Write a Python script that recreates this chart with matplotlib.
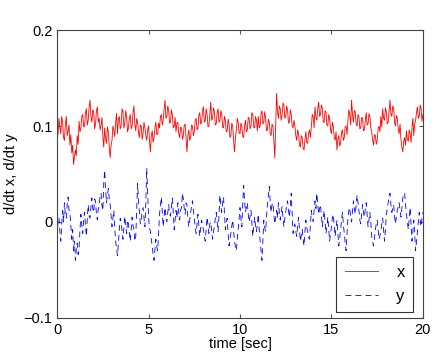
import numpy as np
import matplotlib
matplotlib.use("Agg")
import matplotlib.pyplot as plt

plt.rcParams['font.family'] = ['Liberation Sans', 'DejaVu Sans']

t = np.arange(401) * 0.05

dx = [0.098, 0.091, 0.108, 0.099, 0.092, 0.110, 0.104, 0.088, 0.085, 0.102, 0.110, 0.090, 0.095, 0.101, 0.080, 0.091, 0.072, 0.080, 0.060, 0.068,
      0.075, 0.069, 0.090, 0.081, 0.105, 0.094, 0.098, 0.110, 0.112, 0.099, 0.100, 0.114, 0.118, 0.101, 0.106, 0.120, 0.127, 0.110, 0.104, 0.117,
      0.115, 0.097, 0.102, 0.116, 0.120, 0.104, 0.108, 0.096, 0.100, 0.109, 0.090, 0.078, 0.098, 0.087, 0.082, 0.099, 0.094, 0.078, 0.067, 0.080,
      0.085, 0.100, 0.096, 0.089, 0.104, 0.113, 0.092, 0.107, 0.110, 0.097, 0.100, 0.118, 0.115, 0.098, 0.103, 0.116, 0.110, 0.094, 0.098, 0.108,
      0.112, 0.097, 0.100, 0.114, 0.121, 0.102, 0.095, 0.108, 0.104, 0.093, 0.088, 0.101, 0.100, 0.086, 0.092, 0.104, 0.098, 0.090, 0.085, 0.096,
      0.100, 0.085, 0.073, 0.090, 0.095, 0.083, 0.088, 0.099, 0.104, 0.091, 0.092, 0.103, 0.098, 0.110, 0.112, 0.101, 0.106, 0.118, 0.127, 0.108,
      0.110, 0.121, 0.116, 0.103, 0.104, 0.117, 0.112, 0.098, 0.100, 0.109, 0.094, 0.103, 0.104, 0.092, 0.088, 0.099, 0.098, 0.086, 0.090, 0.101,
      0.102, 0.088, 0.073, 0.090, 0.096, 0.085, 0.088, 0.101, 0.100, 0.090, 0.094, 0.106, 0.108, 0.096, 0.098, 0.111, 0.114, 0.102, 0.104, 0.116,
      0.120, 0.104, 0.106, 0.118, 0.112, 0.099, 0.100, 0.113, 0.125, 0.106, 0.108, 0.119, 0.115, 0.101, 0.102, 0.114, 0.118, 0.104, 0.105, 0.116,
      0.112, 0.099, 0.098, 0.110, 0.106, 0.094, 0.095, 0.107, 0.102, 0.088, 0.090, 0.103, 0.100, 0.085, 0.073, 0.088, 0.096, 0.108, 0.104, 0.093,
      0.092, 0.103, 0.100, 0.089, 0.088, 0.100, 0.106, 0.094, 0.096, 0.109, 0.108, 0.097, 0.100, 0.114, 0.112, 0.099, 0.098, 0.110, 0.106, 0.095,
      0.110, 0.098, 0.100, 0.113, 0.116, 0.102, 0.104, 0.115, 0.108, 0.095, 0.096, 0.107, 0.104, 0.092, 0.090, 0.102, 0.100, 0.085, 0.067, 0.100,
      0.134, 0.115, 0.108, 0.121, 0.118, 0.106, 0.112, 0.124, 0.122, 0.108, 0.110, 0.121, 0.116, 0.103, 0.104, 0.117, 0.112, 0.100, 0.098, 0.106,
      0.100, 0.090, 0.085, 0.096, 0.092, 0.080, 0.078, 0.090, 0.088, 0.077, 0.075, 0.086, 0.094, 0.083, 0.082, 0.093, 0.096, 0.088, 0.100, 0.112,
      0.110, 0.098, 0.120, 0.109, 0.106, 0.118, 0.125, 0.110, 0.112, 0.122, 0.118, 0.104, 0.104, 0.116, 0.114, 0.101, 0.100, 0.112, 0.108, 0.096,
      0.092, 0.104, 0.100, 0.088, 0.085, 0.094, 0.075, 0.086, 0.090, 0.079, 0.082, 0.093, 0.096, 0.085, 0.088, 0.099, 0.100, 0.091, 0.106, 0.117,
      0.112, 0.101, 0.127, 0.112, 0.104, 0.116, 0.115, 0.102, 0.100, 0.112, 0.110, 0.097, 0.098, 0.109, 0.108, 0.095, 0.096, 0.106, 0.114, 0.101,
      0.102, 0.113, 0.110, 0.098, 0.094, 0.086, 0.080, 0.091, 0.090, 0.081, 0.085, 0.097, 0.100, 0.094, 0.110, 0.099, 0.118, 0.108, 0.106, 0.119,
      0.115, 0.102, 0.104, 0.116, 0.127, 0.112, 0.110, 0.121, 0.118, 0.104, 0.100, 0.111, 0.108, 0.097, 0.092, 0.102, 0.086, 0.078, 0.073, 0.084,
      0.088, 0.080, 0.095, 0.086, 0.084, 0.096, 0.092, 0.083, 0.098, 0.108, 0.090, 0.102, 0.106, 0.114, 0.120, 0.108, 0.110, 0.122, 0.118, 0.105,
      0.112]

dy = [-0.015, 0.002, 0.005, -0.010, -0.020, -0.004, 0.012, 0.000, 0.020, 0.008, 0.004, 0.018, 0.026, 0.012, 0.010, -0.004, -0.018, -0.008, -0.030, -0.020,
      -0.040, -0.028, -0.022, -0.034, -0.028, -0.008, 0.008, -0.004, -0.012, 0.002, 0.010, -0.004, -0.015, 0.004, 0.018, 0.006, 0.004, 0.016, 0.025, 0.014,
      0.010, 0.024, 0.022, 0.008, 0.002, 0.014, 0.016, 0.028, 0.030, 0.018, 0.012, 0.040, 0.054, 0.034, 0.020, 0.028, 0.035, 0.024, 0.018, 0.006,
      -0.005, 0.004, 0.012, -0.006, -0.020, -0.028, -0.035, -0.022, -0.010, 0.004, 0.000, -0.010, -0.018, -0.006, 0.006, -0.004, -0.012, 0.002, -0.002, -0.012,
      -0.020, -0.008, 0.005, -0.004, -0.008, -0.020, -0.015, 0.014, 0.040, 0.022, 0.010, -0.002, 0.002, 0.012, 0.015, 0.004, -0.005, 0.020, 0.056, 0.030,
      0.005, -0.006, -0.010, -0.018, -0.025, -0.034, -0.040, -0.028, -0.018, -0.026, -0.030, -0.012, 0.008, 0.018, 0.026, 0.010, -0.005, 0.006, 0.015, 0.004,
      0.000, 0.010, 0.018, 0.008, 0.006, 0.016, 0.025, 0.010, -0.008, 0.002, 0.012, 0.004, 0.020, 0.010, 0.002, 0.012, 0.015, 0.030, 0.024, 0.014,
      0.008, 0.020, 0.018, 0.004, -0.005, 0.002, 0.010, 0.016, 0.022, 0.012, 0.004, -0.006, -0.012, -0.002, 0.008, -0.004, -0.015, -0.006, 0.002, -0.004,
      -0.008, -0.016, -0.020, -0.008, 0.005, -0.004, -0.012, -0.002, 0.000, -0.010, -0.018, -0.010, -0.005, 0.004, 0.010, 0.000, -0.010, 0.006, 0.028, 0.018,
      0.010, 0.020, 0.026, 0.008, -0.008, 0.000, 0.004, -0.012, -0.025, -0.018, -0.012, -0.004, 0.002, -0.010, -0.020, -0.026, -0.030, -0.018, -0.008, 0.004,
      0.015, 0.004, -0.005, 0.020, 0.038, 0.022, 0.010, 0.016, 0.020, 0.008, 0.000, 0.006, 0.012, -0.002, -0.015, -0.004, 0.005, -0.004, -0.010, -0.002,
      0.008, -0.008, -0.020, -0.030, -0.040, -0.018, 0.002, -0.006, -0.010, 0.006, 0.018, 0.028, 0.037, 0.022, 0.010, 0.018, 0.020, 0.008, -0.002, 0.004,
      0.012, 0.004, 0.020, 0.010, 0.002, 0.010, 0.016, 0.004, -0.005, 0.004, 0.010, 0.018, 0.022, 0.012, 0.005, 0.016, 0.030, 0.010, -0.012, -0.006,
      -0.002, -0.010, -0.015, -0.004, 0.005, -0.008, -0.020, -0.014, -0.008, -0.018, -0.025, -0.010, 0.002, -0.006, -0.010, -0.016, -0.018, -0.002, 0.012, 0.004,
      0.000, 0.012, 0.022, 0.014, 0.030, 0.018, 0.008, 0.014, 0.018, 0.006, -0.005, 0.004, 0.012, 0.000, -0.012, -0.004, 0.005, -0.008, -0.020, -0.012,
      -0.005, 0.004, 0.008, -0.004, -0.015, -0.006, 0.002, -0.012, -0.025, -0.016, -0.008, 0.002, 0.010, -0.002, -0.012, -0.022, -0.030, -0.012, 0.005, 0.012,
      0.015, 0.004, 0.000, 0.012, 0.022, 0.014, 0.008, 0.018, 0.028, 0.020, 0.012, 0.002, -0.002, 0.008, 0.018, 0.010, 0.005, 0.014, 0.020, 0.008,
      -0.005, 0.002, 0.010, 0.000, -0.015, -0.020, -0.025, -0.016, -0.008, -0.002, 0.002, -0.008, -0.018, -0.014, -0.010, -0.002, 0.004, -0.008, -0.020, -0.008,
      0.008, 0.014, 0.020, 0.026, 0.030, 0.018, 0.010, 0.014, 0.018, 0.006, -0.002, 0.006, 0.012, 0.016, 0.020, 0.012, 0.005, 0.014, 0.025, 0.030,
      0.030, 0.018, 0.008, 0.000, -0.008, 0.004, 0.015, -0.002, -0.020, -0.010, 0.002, -0.012, -0.030, -0.020, -0.010, 0.000, 0.010, 0.002, -0.005, 0.004,
      0.010]

xticks = [0, 5, 10, 15, 20]
yticks = [-0.1, 0, 0.1, 0.2]
yticklabels = ['\u22120.1', '0', '0.1', '0.2']

fig = plt.figure(figsize=(4.36, 3.58), dpi=100)
ax = fig.add_axes([0.131, 0.112, 0.839, 0.804])
ax.plot(t, dx, color='red', lw=0.6, label='x')
ax.plot(t, dy, color='blue', lw=0.6, ls='--', dashes=(7, 5), label='y')
ax.set_xlim(0, 20)
ax.set_ylim(-0.1, 0.2)
ax.set_xticks(xticks)
ax.set_yticks(yticks)
ax.set_yticklabels(yticklabels)
ax.tick_params(direction='in', top=True, right=True, labelsize=10.5, length=3,
               color='#555555')
for s in ax.spines.values():
    s.set_color('#444444')
    s.set_linewidth(0.8)
ax.set_xlabel('time [sec]', fontsize=10.5, labelpad=0)
ax.set_ylabel('d/dt x, d/dt y', fontsize=10.5, labelpad=4)

leg = ax.legend(loc='lower right', bbox_to_anchor=(0.973, 0.021), borderaxespad=0,
                fancybox=False, framealpha=1, edgecolor='#333333', fontsize=12,
                handlelength=2.0, handletextpad=1.1, borderpad=0.5)
leg.get_frame().set_linewidth(0.8)

fig.savefig('out.png', dpi=100)
